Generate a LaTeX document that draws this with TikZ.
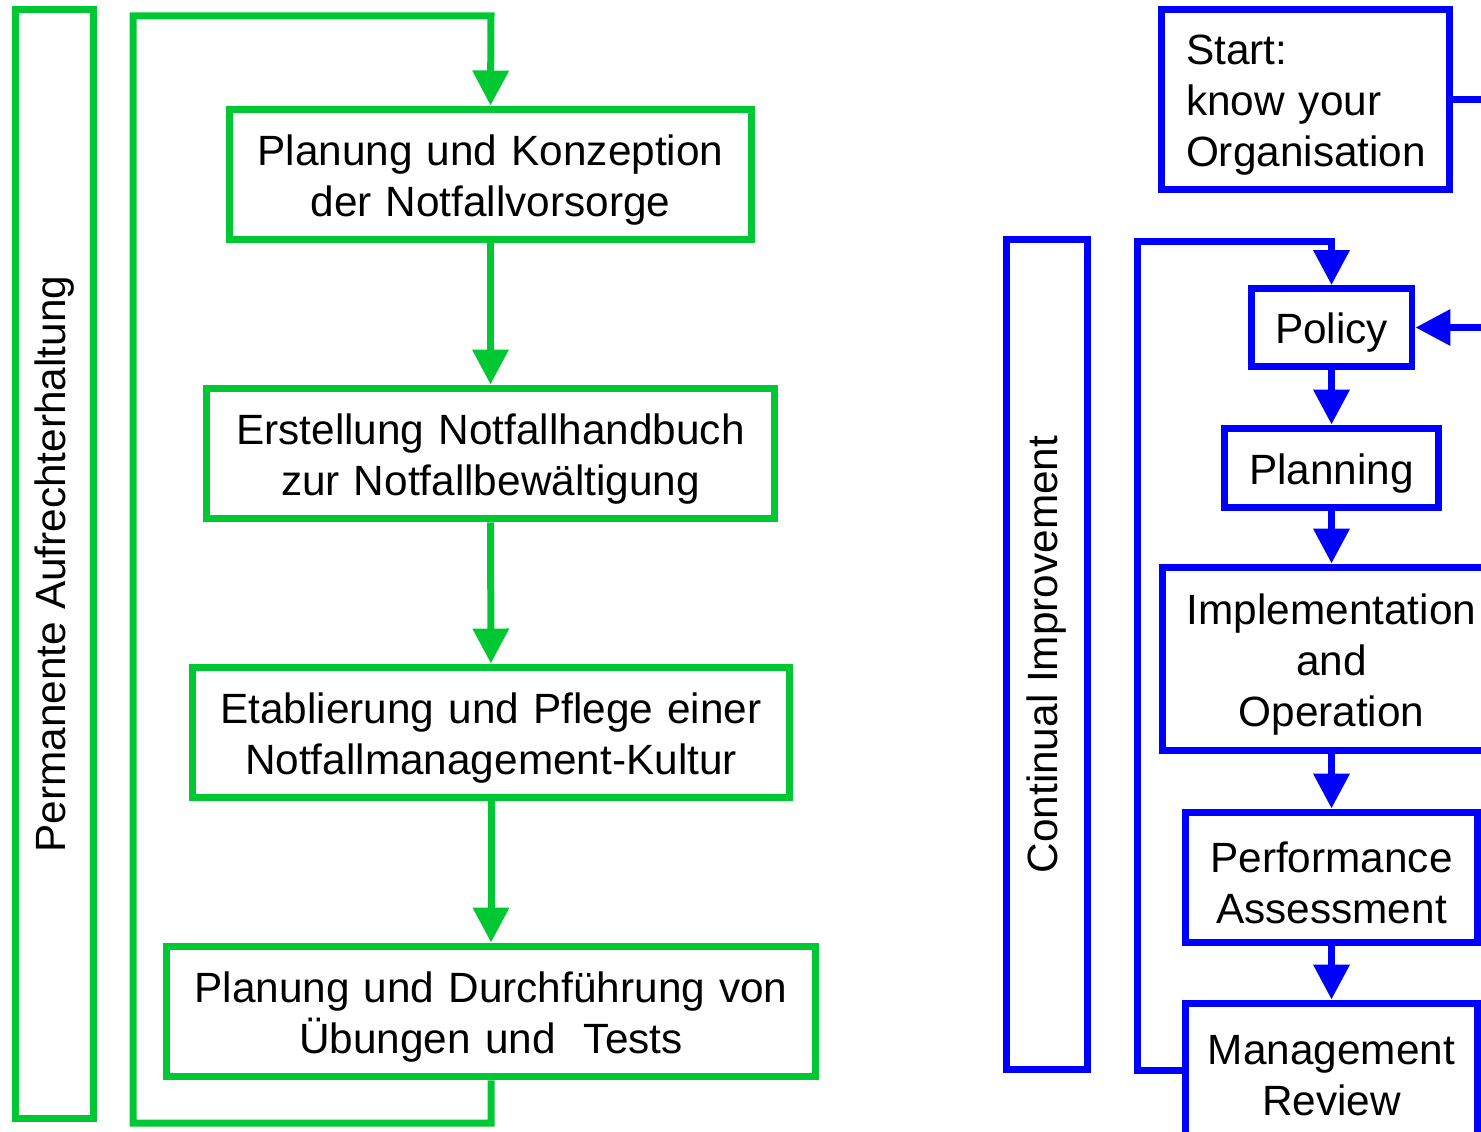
\documentclass[tikz,border=0pt]{standalone}
\usepackage{fontspec}
\setmainfont{Liberation Sans}
\usetikzlibrary{arrows.meta}
\definecolor{notgreen}{RGB}{0,200,50}
\definecolor{pdcablue}{RGB}{0,0,255}
\tikzset{
    gbox/.style={draw=notgreen, line width=0.14cm, inner sep=0pt, align=center,
        minimum width=#1, text width=#1,
        execute at begin node={\rule{0pt}{23.4pt}}},
    bbox/.style={draw=pdcablue, line width=0.14cm, inner sep=0pt, align=center,
        minimum width=#1, text width=#1,
        execute at begin node={\rule{0pt}{23.4pt}}},
    gline/.style={draw=notgreen, line width=0.14cm, -{Triangle[length=0.7cm,width=0.7cm]}},
    bline/.style={draw=pdcablue, line width=0.14cm, -{Triangle[length=0.7cm,width=0.7cm]}}
}

\begin{document}
\begin{tikzpicture}[x=0.02cm, y=-0.02cm, font=\fontsize{24.1}{29}\selectfont]
        \useasboundingbox (0,0) rectangle (1481,1132);
        \clip (0,0) rectangle (1481,1132);

        % left side
        \node[gbox=1.56cm, minimum height=22.2cm] (perm) at (54.5,564) {};
        \node[rotate=90] (permtext) at (perm.center) {Permanente Aufrechterhaltung};

        \node[gbox=10.46cm, minimum height=2.62cm] (plan) at (490.5,174.5)
            {Planung und Konzeption\\der Notfallvorsorge};
        \node[gbox=11.38cm, minimum height=2.62cm] (hand) at (490.5,453.5)
            {Erstellung Notfallhandbuch\\zur Notfallbewältigung};
        \node[gbox=11.96cm, minimum height=2.62cm] (kult) at (491,732.5)
            {Etablierung und Pflege einer\\Notfallmanagement-Kultur};
        \node[gbox=13cm, minimum height=2.62cm] (test) at (491,1011.5)
            {Planung und Durchführung von\\Übungen und\ \ Tests};

        \draw[gline] (plan) -- (hand);
        \draw[gline] (hand) -- (kult);
        \draw[gline] (kult) -- (test);
        \draw[gline] (test.south) |- (133,1123) |- (491,16) -- (plan.north);

        % right side
        \node[bbox=5.77cm, minimum height=3.61cm, text width=4.79cm, align=left] (start) at (1305.75,99.25)
            {Start:\\know your\\Organisation};
        \node[bbox=1.62cm, minimum height=16.62cm] (ci) at (1046.5,654.5) {};
        \node[rotate=90] (citext) at (ci.center) {Continual Improvement};

        \node[bbox=3.22cm, minimum height=1.56cm] (policy) at (1331.5,327.5) {Policy};
        \node[bbox=4.28cm, minimum height=1.6cm] (planning) at (1331.5,468) {Planning};
        \node[bbox=6.78cm, minimum height=3.68cm] (impl) at (1331.5,659)
            {Implementation\\and\\Operation};
        \node[bbox=5.86cm, minimum height=2.62cm] (perf) at (1331.5,877.5)
            {Performance\\Assessment};
        \node[bbox=5.86cm, minimum height=2.68cm] (review) at (1331.5,1070)
            {Management\\Review};

        \draw[bline] (start.east) -- ++(60,0) |- (policy.east);
        \draw[bline] (policy) -- (planning);
        \draw[bline] (planning) -- (impl);
        \draw[bline] (impl) -- (perf);
        \draw[bline] (perf) -- (review);
        \draw[bline] (review.west) -| (1137,241) -| (policy.north);
    \end{tikzpicture}
\end{document}
